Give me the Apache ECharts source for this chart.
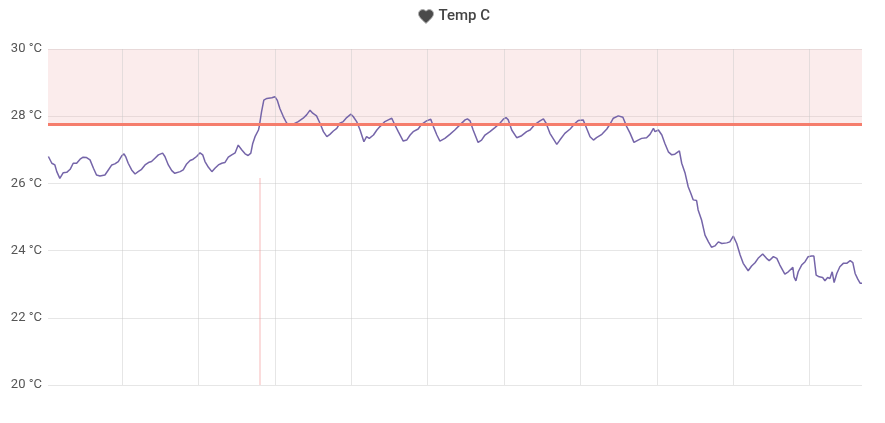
<!DOCTYPE html>
<html>
<head>
<meta charset="utf-8">
<script src="https://cdn.jsdelivr.net/npm/echarts@6/dist/echarts.min.js"></script>
<style>
  html, body { margin: 0; padding: 0; background: #fff; }
  #chart { width: 885px; height: 423px; }
</style>
</head>
<body>
<div id="chart"></div>
<script>
// Time in clock hours (22.06 = ~22:04 of day 1; 24+ = next day)
const times = [
  22.07,22.16,22.24,22.29,22.37,22.42,22.46,22.55,22.64,22.72,22.77,22.81,22.90,22.98,23.07,23.16,23.25,23.33,23.42,23.55,
  23.64,23.73,23.81,23.90,23.99,24.05,24.10,24.16,24.25,24.34,24.42,24.51,24.60,24.69,24.77,24.86,24.95,25.06,25.12,25.21,
  25.30,25.38,25.52,25.60,25.69,25.78,25.86,25.95,26.04,26.11,26.17,26.26,26.35,26.43,26.52,26.61,26.69,26.78,26.87,26.96,
  27.04,27.13,27.22,27.30,27.37,27.42,27.48,27.57,27.59,27.65,27.71,27.79,27.92,28.00,28.06,28.13,28.22,28.31,28.40,28.48,
  28.61,28.74,28.83,28.92,28.99,29.09,29.18,29.27,29.36,29.44,29.53,29.62,29.70,29.79,29.88,29.99,30.05,30.14,30.23,30.33,
  30.40,30.47,30.58,30.67,30.75,30.88,30.97,31.06,31.12,31.23,31.36,31.45,31.54,31.62,31.75,31.84,31.97,32.08,32.15,32.24,
  32.32,32.45,32.58,32.71,32.85,32.98,33.04,33.11,33.19,33.32,33.41,33.50,33.63,33.76,33.89,33.98,34.05,34.11,34.20,34.33,
  34.46,34.59,34.68,34.81,34.94,35.03,35.10,35.20,35.38,35.46,35.59,35.73,35.86,35.94,36.07,36.16,36.25,36.34,36.42,36.56,
  36.69,36.77,36.86,36.99,37.11,37.21,37.30,37.40,37.51,37.60,37.73,37.82,37.91,37.95,38.04,38.13,38.21,38.30,38.39,38.47,
  38.59,38.65,38.74,38.82,38.89,38.95,39.04,39.08,39.17,39.26,39.35,39.43,39.52,39.61,39.70,39.83,39.91,40.00,40.09,40.18,
  40.26,40.39,40.48,40.57,40.65,40.77,40.87,40.94,41.05,41.14,41.22,41.35,41.44,41.56,41.59,41.64,41.70,41.79,41.88,41.96,
  42.05,42.11,42.17,42.25,42.34,42.40,42.47,42.53,42.59,42.64,42.71,42.79,42.88,42.97,43.06,43.13,43.19,43.26,43.32,43.37
];
const temps = [
  26.80,26.60,26.55,26.35,26.15,26.20,26.32,26.33,26.42,26.60,26.65,26.60,26.72,26.78,26.77,26.70,26.45,26.25,26.22,26.25,
  26.40,26.55,26.58,26.65,26.82,26.88,26.78,26.60,26.40,26.28,26.35,26.42,26.55,26.62,26.65,26.75,26.85,26.90,26.80,26.55,
  26.38,26.30,26.35,26.40,26.58,26.68,26.72,26.80,26.91,26.85,26.65,26.48,26.35,26.45,26.55,26.60,26.62,26.78,26.85,26.91,
  27.14,27.00,26.88,26.83,26.90,27.19,27.39,27.59,27.69,28.13,28.48,28.53,28.55,28.58,28.48,28.23,27.99,27.79,27.74,27.76,
  27.84,27.94,28.04,28.18,28.09,28.01,27.79,27.54,27.39,27.46,27.56,27.64,27.79,27.84,27.96,28.06,27.99,27.84,27.59,27.24,
  27.39,27.34,27.44,27.59,27.69,27.84,27.89,27.94,27.79,27.54,27.26,27.29,27.44,27.54,27.62,27.76,27.86,27.91,27.69,27.44,
  27.26,27.34,27.46,27.59,27.75,27.89,27.92,27.86,27.59,27.22,27.29,27.44,27.54,27.66,27.79,27.91,27.96,27.89,27.59,27.36,
  27.42,27.54,27.59,27.76,27.86,27.92,27.79,27.49,27.16,27.29,27.49,27.62,27.79,27.87,27.89,27.64,27.39,27.29,27.36,27.46,
  27.62,27.76,27.94,28.01,27.97,27.69,27.49,27.22,27.29,27.34,27.36,27.46,27.64,27.54,27.59,27.44,27.19,26.94,26.85,26.87,
  26.97,26.60,26.30,25.90,25.70,25.51,25.49,25.21,24.91,24.46,24.26,24.10,24.14,24.26,24.21,24.23,24.26,24.43,24.21,23.87,
  23.62,23.40,23.54,23.64,23.77,23.90,23.77,23.70,23.82,23.77,23.57,23.30,23.37,23.50,23.22,23.10,23.37,23.57,23.67,23.82,
  23.84,23.84,23.27,23.22,23.20,23.10,23.20,23.17,23.37,23.05,23.32,23.52,23.62,23.62,23.70,23.64,23.32,23.15,23.03,23.03
];
const seriesName = 'Temp C';
const axisRange = [22.06, 43.37];
const gridHours = [24, 26, 28, 30, 32, 34, 36, 38, 40, 42];
const yTicks = { min: 20, max: 30, step: 2 };
const threshold = 27.75;
const eventTime = 27.61;
const eventRange = [20, 26.16];

const data = times.map((t, i) => [t, temps[i]]);

const heart = 'path://M12,21.35L10.55,20.03C5.4,15.36 2,12.27 2,8.5C2,5.41 4.42,3 7.5,3C9.24,3 10.91,3.81 12,5.08C13.09,3.81 14.76,3 16.5,3C19.58,3 22,5.41 22,8.5C22,12.27 18.6,15.36 13.45,20.03L12,21.35Z';

const gridMarks = gridHours.map(h => ({
  xAxis: h,
  lineStyle: { color: 'rgba(200,200,200,0.45)', width: 1, type: 'solid' }
}));

const chart = echarts.init(document.getElementById('chart'), null, { renderer: 'canvas' });
chart.setOption({
  animation: false,
  textStyle: { fontFamily: 'Roboto' },
  legend: {
    top: 4,
    left: 413,
    itemWidth: 15,
    itemHeight: 14,
    itemGap: 10,
    data: [{
      name: seriesName,
      icon: heart,
      itemStyle: { color: '#4a4a4a', borderColor: '#b0b0b0', borderWidth: 1 }
    }],
    textStyle: { fontFamily: 'Roboto', fontSize: 15, fontWeight: 500, color: '#444' }
  },
  grid: { left: 48, right: 23, top: 49, bottom: 38, containLabel: false },
  xAxis: {
    type: 'value',
    min: axisRange[0],
    max: axisRange[1],
    axisLine: { show: false },
    axisTick: { show: false },
    axisLabel: { show: false },
    splitLine: { show: false }
  },
  yAxis: {
    type: 'value',
    min: yTicks.min,
    max: yTicks.max,
    interval: yTicks.step,
    axisLine: { show: false },
    axisTick: { show: false },
    axisLabel: {
      formatter: '{value} °C',
      color: '#555',
      fontSize: 13,
      fontFamily: 'Roboto',
      margin: 6
    },
    splitLine: { lineStyle: { color: '#e6e6e6', width: 1 } }
  },
  series: [{
    name: seriesName,
    type: 'line',
    data: data,
    showSymbol: false,
    symbol: 'none',
    lineStyle: { color: '#7565a9', width: 1.5 },
    itemStyle: { color: '#7565a9' },
    markArea: {
      silent: true,
      itemStyle: { color: 'rgba(240,175,175,0.24)' },
      data: [[{ yAxis: threshold }, { yAxis: yTicks.max }]]
    },
    markLine: {
      silent: true,
      symbol: 'none',
      label: { show: false },
      emphasis: { disabled: true },
      data: gridMarks.concat([
        [
          { coord: [eventTime, eventRange[0]], lineStyle: { color: 'rgba(245,150,150,0.45)', width: 1.5, type: 'solid' } },
          { coord: [eventTime, eventRange[1]] }
        ],
        { yAxis: threshold, lineStyle: { color: '#f57d6c', width: 3, type: 'solid' } }
      ])
    }
  }]
});
</script>
</body>
</html>
